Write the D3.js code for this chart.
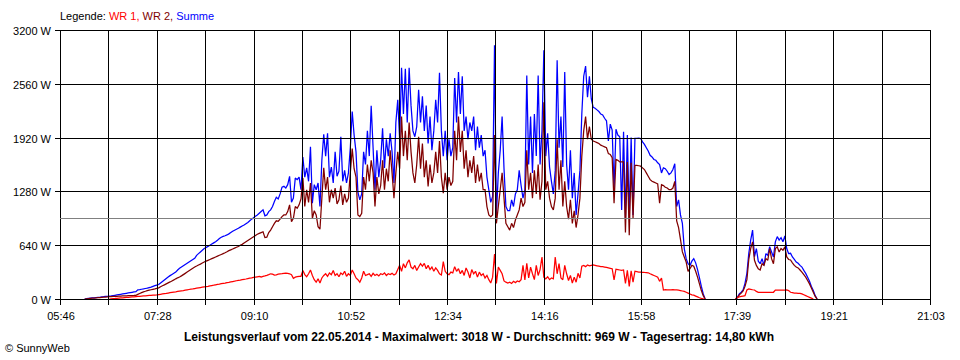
<!DOCTYPE html>
<html><head><meta charset="utf-8">
<script src="https://cdn.jsdelivr.net/npm/d3@7"></script>
<style>
body{margin:0;background:#fff}
svg{display:block}
text{font-family:"Liberation Sans",Arial,sans-serif;font-size:11px}
</style>
</head><body>
<svg id="c" width="960" height="360"></svg>
<script>
// time base of the samples (minutes after midnight)
const startMinute = 370, stepMinutes = 2;

const summe = [
0,0,5,8,10,12,14,16,18,20,
25,27,30,32,34,36,40,44,48,52,
56,60,64,68,72,76,80,84,88,110,
112,116,120,125,130,136,142,150,158,165,
172,190,208,226,244,262,278,292,306,320,
345,365,380,395,410,425,440,455,470,485,
520,540,560,580,600,612,626,640,654,668,
682,700,720,735,745,752,762,775,790,805,
818,830,842,855,868,880,895,910,930,950,
968,985,1000,1020,1040,1060,990,1000,1040,1060,
1100,1160,1210,1190,1250,1330,1340,1320,1360,1460,
1150,1200,1440,1420,1450,1300,1690,1450,1560,1400,
1810,1140,1360,1300,1380,1100,1650,1960,1700,1970,
1450,1570,1380,1750,1460,1520,1930,1400,1530,1380,
1500,1800,2230,1950,1750,1270,1180,1250,1750,1600,
2000,1700,2300,1800,1300,1770,1450,1650,2030,1560,
1900,1700,1970,1750,1380,2100,2370,1900,2750,2200,
2740,2100,2750,2300,2000,1930,2050,2490,2100,2410,
2000,2300,1850,2170,1770,2000,2370,2100,2690,2000,
1700,2000,1650,1900,1700,1800,2630,2100,2700,2200,
2650,2000,2170,1900,2100,2000,2170,1770,2050,1800,
1950,1700,1770,1450,1300,1150,1220,3018,1000,1500,
1770,2170,1550,1100,1050,1050,1180,1100,1250,1300,
1530,1350,1200,1300,2660,1600,2170,1500,2200,1700,
2660,1600,2000,2960,1700,1970,1570,1400,1250,1530,
2840,1800,2170,1570,2700,1600,1300,1770,1200,1500,
1000,1250,1530,2200,2650,2770,2400,2650,2380,2280,
2270,2250,2230,2200,2190,2150,2120,1880,2080,2010,
1300,2020,1950,1930,1060,1990,960,1950,960,1920,
1000,1912,1912,1915,1910,1870,1840,1800,1760,1710,
1690,1660,1650,1620,1600,1500,1560,1550,1520,1480,
1500,1540,1610,1100,1180,1000,900,600,480,420,
400,450,480,430,350,250,150,60,0,0,
0,0,0,0,0,0,0,0,0,0,
0,0,0,0,0,20,60,80,107,186,
305,544,700,820,504,600,450,420,480,400,
540,520,623,560,500,680,742,700,730,680,
750,600,540,544,500,470,440,425,400,380,
340,305,260,210,150,100,40,0,0,0,
0,0,0,0,0,0,0,0,0,0,
0];

const wr2 = [
0,0,3,5,7,9,11,13,15,17,
19,21,23,25,27,28,30,31,32,34,
35,36,37,38,39,40,41,42,44,55,
65,75,85,92,100,105,110,115,120,126,
132,145,157,168,180,192,203,215,227,240,
252,262,275,290,305,320,335,350,365,380,
392,405,415,428,440,450,460,470,480,490,
500,510,520,530,540,550,562,575,585,595,
605,615,625,640,650,665,680,695,710,725,
740,755,770,780,790,800,730,735,790,820,
860,900,930,925,950,980,1000,1000,1040,1120,
920,960,1100,1080,1120,1190,1440,1100,1300,1150,
1380,960,1050,1000,860,830,1200,1560,1300,1450,
1150,1300,1200,1320,1130,1180,1350,1120,1250,1150,
1200,1500,1790,1550,1450,1000,980,1020,1450,1300,
1600,1400,1650,1500,1100,1450,1250,1350,1650,1300,
1550,1400,1770,1500,1200,1500,1750,1550,2170,1700,
2000,1650,2100,1750,1500,1380,1600,1930,1550,1850,
1450,1650,1340,1600,1380,1500,1750,1500,1880,1450,
1260,1500,1300,1450,1350,1400,2000,1650,2170,1750,
2000,1550,1770,1450,1650,1500,1700,1380,1600,1400,
1500,1300,1300,1100,1000,980,1000,1950,900,1100,
1300,1500,1200,900,860,820,900,850,940,1000,
1060,1200,1100,1150,1770,1300,1500,1200,1530,1250,
1600,1180,1400,2340,1300,1400,1200,1100,1060,1200,
1900,1300,1650,1100,1400,1100,950,1180,900,1050,
850,1000,1200,1700,2000,2170,1900,2050,1900,1880,
1870,1860,1850,1830,1820,1810,1800,1730,1720,1680,
1140,1660,1650,1630,1630,1630,790,1630,760,1620,
960,1590,1590,1585,1580,1560,1540,1500,1460,1420,
1400,1390,1380,1370,1140,1360,1350,1330,1320,1300,
1300,1320,1400,930,850,710,560,500,440,330,
360,400,390,330,260,180,100,40,0,0,
0,0,0,0,0,0,0,0,0,0,
0,0,0,0,0,15,50,70,95,150,
230,470,600,680,460,400,360,345,420,400,
480,460,600,480,420,600,620,560,600,580,
620,500,470,464,430,400,380,370,345,320,
290,260,220,180,130,80,30,0,0,0,
0,0,0,0,0,0,0,0,0,0,
0];

const wr1 = [
0,0,0,0,0,0,0,0,0,0,
0,0,0,0,0,3,5,6,8,10,
12,14,16,18,20,22,24,26,28,30,
32,34,36,38,40,42,44,46,47,48,
52,56,60,64,67,71,75,79,83,86,
90,94,98,101,105,109,113,117,120,124,
128,132,136,140,144,147,151,156,160,164,
169,173,177,182,186,190,195,199,204,208,
212,217,221,225,230,234,238,243,247,251,
256,260,264,268,262,270,275,282,290,300,
295,285,288,295,300,302,305,308,305,300,
290,245,260,265,270,270,340,290,265,300,
345,280,230,200,240,190,250,280,300,270,
310,290,340,280,300,265,310,290,330,270,
300,280,345,300,250,230,200,250,330,280,
290,300,270,305,280,295,275,300,290,310,
280,300,290,305,285,300,350,400,330,420,
370,430,465,380,360,400,340,380,420,390,
424,360,400,350,380,330,370,340,300,285,
445,330,300,290,320,310,385,330,360,300,
340,280,370,320,250,350,300,330,260,320,
280,300,250,280,230,190,260,535,186,380,
340,300,215,200,190,200,185,210,195,215,
205,230,400,226,424,250,380,300,230,400,
280,350,500,260,240,265,230,250,240,500,
300,420,250,230,400,300,220,280,190,260,
200,305,250,390,400,385,405,395,400,405,
400,395,390,385,385,380,375,370,365,360,
226,355,350,345,340,345,186,340,150,335,
200,330,325,320,320,318,316,315,312,300,
290,280,270,260,210,250,107,112,110,108,
110,112,110,108,105,100,95,90,80,70,
60,50,45,35,25,15,8,3,0,0,
0,0,0,0,0,0,0,0,0,0,
0,0,0,0,0,20,25,30,35,40,
107,120,115,110,107,90,80,80,80,80,
80,80,80,80,80,107,107,107,107,107,
105,107,100,80,75,70,70,67,67,60,
50,40,30,20,10,0,0,0,0,0,
0,0,0,0,0,0,0,0,0,0,
0];

const xTickLabels = ["05:46","07:28","09:10","10:52","12:34","14:16","15:58","17:39","19:21","21:03"];
const yTickValues = [0, 640, 1280, 1920, 2560, 3200];
const averageW = 969;
const legendLabel = "Legende: ";
const seriesNames = ["WR 1", "WR 2", "Summe"];
const footerText = "Leistungsverlauf vom 22.05.2014 - Maximalwert: 3018 W - Durchschnitt: 969 W - Tagesertrag: 14,80 kWh";
const creditText = "\u00A9 SunnyWeb";

(function(){
const colors = {"WR 1":"#ff0000","WR 2":"#800000","Summe":"#0000ff"};

const toMin = s => { const [h,m] = s.split(":").map(Number); return h*60+m; };
const tickMins = xTickLabels.map(toMin);

const pL = 60, pR = 930, pT = 30, pB = 299;
const x = d3.scaleLinear().domain([tickMins[0], tickMins[tickMins.length-1]]).range([pL, pR]);
const y = d3.scaleLinear().domain([0, 3200]).range([pB, pT]);

const svg = d3.select("#c");
svg.append("rect").attr("width",960).attr("height",360).attr("fill","#fff");

svg.append("defs").append("clipPath").attr("id","plot")
  .append("rect").attr("x",pL).attr("y",pT).attr("width",pR-pL).attr("height",pB-pT+1);

const seriesData = [["Summe", summe], ["WR 2", wr2], ["WR 1", wr1]];
const g = svg.append("g").attr("clip-path","url(#plot)");
seriesData.forEach(([name, vals]) => {
  // runs of zero output are not drawn (they sit on the axis)
  const line = d3.line()
    .defined((d,i) => d > 0 || (i > 0 && vals[i-1] > 0) || (i < vals.length-1 && vals[i+1] > 0))
    .x((d,i) => x(startMinute + i*stepMinutes))
    .y(d => y(d));
  g.append("path").datum(vals)
    .attr("d", line)
    .attr("fill","none")
    .attr("stroke", colors[name])
    .attr("stroke-width", 1.25)
    .attr("stroke-linejoin","miter")
    .attr("stroke-miterlimit", 2);
});

const grid = svg.append("g").attr("shape-rendering","crispEdges");
const vMins = [];
tickMins.forEach((m,i) => {
  vMins.push(m);
  if (i < tickMins.length-1) vMins.push((m + tickMins[i+1]) / 2);
});
grid.selectAll("line.v").data(vMins).enter().append("line")
  .attr("x1", d => Math.round(x(d))+0.5).attr("x2", d => Math.round(x(d))+0.5)
  .attr("y1", pT).attr("y2", pB+6)
  .attr("stroke","#000").attr("stroke-width",1);
grid.append("line")
  .attr("x1", pL).attr("x2", pR)
  .attr("y1", Math.round(y(averageW))+0.5).attr("y2", Math.round(y(averageW))+0.5)
  .attr("stroke","#808080").attr("stroke-width",1);
grid.selectAll("line.h").data(yTickValues).enter().append("line")
  .attr("x1", pL-5).attr("x2", pR+0.5)
  .attr("y1", d => Math.round(y(d))+0.5).attr("y2", d => Math.round(y(d))+0.5)
  .attr("stroke","#000").attr("stroke-width",1);

svg.selectAll("text.yl").data(yTickValues).enter().append("text")
  .attr("x", pL-9).attr("y", d => Math.round(y(d))+4.5)
  .attr("text-anchor","end").attr("fill","#000")
  .text(d => d + " W");

svg.selectAll("text.xl").data(xTickLabels).enter().append("text")
  .attr("x", (d,i) => x(tickMins[i])+1).attr("y", 320)
  .attr("text-anchor","middle").attr("fill","#000")
  .text(d => d);

const leg = svg.append("text").attr("x", pL).attr("y", 20);
leg.append("tspan").attr("fill","#000").text(legendLabel);
seriesNames.forEach((n,i) => {
  leg.append("tspan").attr("fill", colors[n]).text(n + (i < seriesNames.length-1 ? ", " : ""));
});

svg.append("text").attr("x", 479).attr("y", 341)
  .attr("text-anchor","middle").attr("fill","#000")
  .style("font-weight","bold").style("font-size","12px")
  .text(footerText);
svg.append("text").attr("x", 5).attr("y", 352).attr("fill","#000").text(creditText);
})();
</script>
</body></html>
